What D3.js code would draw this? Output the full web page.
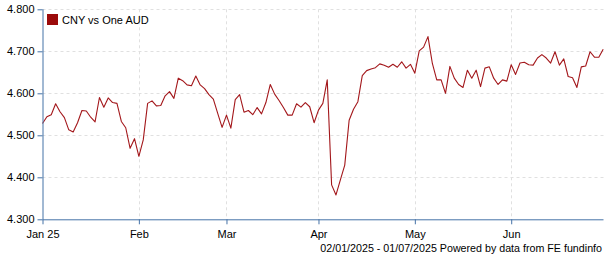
<!DOCTYPE html>
<html><head><meta charset="utf-8">
<script src="https://cdn.jsdelivr.net/npm/d3@7"></script>
<style>body{margin:0;background:#fff;} text{font-family:"Liberation Sans",Arial,sans-serif;}</style>
</head><body><svg id="c" width="605" height="260"></svg>
<script>
const seriesName = "CNY vs One AUD";
const values = [
4.528,4.544,4.549,4.575,4.556,4.542,4.513,4.508,4.530,4.559,
4.558,4.543,4.532,4.590,4.567,4.589,4.578,4.576,4.533,4.518,
4.469,4.492,4.450,4.489,4.576,4.582,4.570,4.571,4.594,4.604,
4.588,4.636,4.630,4.620,4.618,4.641,4.620,4.611,4.597,4.586,
4.552,4.519,4.548,4.517,4.585,4.597,4.555,4.559,4.549,4.566,
4.551,4.578,4.621,4.598,4.583,4.566,4.548,4.548,4.575,4.567,
4.578,4.568,4.530,4.560,4.576,4.632,4.382,4.358,4.394,4.429,
4.536,4.562,4.580,4.642,4.654,4.658,4.661,4.670,4.667,4.662,
4.669,4.662,4.675,4.660,4.669,4.648,4.701,4.710,4.735,4.671,
4.632,4.632,4.600,4.664,4.636,4.621,4.614,4.655,4.636,4.655,
4.616,4.660,4.663,4.636,4.621,4.632,4.629,4.668,4.645,4.672,
4.674,4.668,4.667,4.684,4.692,4.684,4.672,4.699,4.667,4.682,
4.640,4.637,4.614,4.663,4.665,4.699,4.686,4.686,4.705];
const xTickIndex = [0,22,42,63,85,107];
const xTickLabels = ["Jan 25","Feb","Mar","Apr","May","Jun"];
const yTicks = [4.3,4.4,4.5,4.6,4.7,4.8];
const footer = "02/01/2025 - 01/07/2025 Powered by data from FE fundinfo";

const svg = d3.select("#c");
const pL = 42.5, pR = 603.5, pT = 9.3, pB = 219.3;
const x = d3.scaleLinear().domain([0, values.length - 1]).range([pL, pR - 0.3]);
const y = d3.scaleLinear().domain([4.3, 4.8]).range([pB, pT]);
const axisColor = "#4572A7";

// grid
const g = svg.append("g");
g.selectAll("line.hg").data(yTicks.slice(1)).join("line")
  .attr("x1", pL).attr("x2", pR).attr("y1", d => Math.round(y(d)) + 0.5).attr("y2", d => Math.round(y(d)) + 0.5)
  .attr("stroke", "#e0e0e0").attr("stroke-dasharray", "3,3");
g.selectAll("line.vg").data(xTickIndex.slice(1)).join("line")
  .attr("x1", d => Math.round(x(d)) + 0.5).attr("x2", d => Math.round(x(d)) + 0.5).attr("y1", pT).attr("y2", pB)
  .attr("stroke", "#e0e0e0").attr("stroke-dasharray", "3,3");

// line
const line = d3.line().x((d, i) => x(i)).y(d => y(d));
svg.append("path").datum(values).attr("d", line)
  .attr("fill", "none").attr("stroke", "#A3171B").attr("stroke-width", 1.1).attr("stroke-linejoin", "round");

// y axis
const yAxis = d3.axisLeft(y).tickValues(yTicks).tickFormat(d3.format(".3f")).tickSize(5).tickPadding(3);
const ya = svg.append("g").attr("transform", `translate(${pL},0)`).call(yAxis);
ya.select(".domain").attr("stroke", axisColor).attr("d", `M0.5,${pT}V${pB}`);
ya.selectAll(".tick line").attr("stroke", axisColor);
ya.selectAll(".tick text").attr("font-size", 11).attr("fill", "#000").attr("font-family", "Liberation Sans, Arial, sans-serif");

// x axis
const xAxis = d3.axisBottom(x).tickValues(xTickIndex).tickFormat((d, i) => xTickLabels[i]).tickSize(5).tickPadding(6);
const xa = svg.append("g").attr("transform", `translate(0,${pB})`).call(xAxis);
xa.select(".domain").attr("stroke", axisColor).attr("d", `M${pL},0.5H${pR}`);
xa.selectAll(".tick line").attr("stroke", axisColor);
xa.selectAll(".tick text").attr("font-size", 11).attr("fill", "#000").attr("font-family", "Liberation Sans, Arial, sans-serif");

// legend
svg.append("rect").attr("x", 47).attr("y", 14).attr("width", 11).attr("height", 11).attr("fill", "#9B0A0A");
svg.append("text").attr("x", 62).attr("y", 24).attr("font-size", 11).attr("fill", "#000").text(seriesName);

// footer
svg.append("text").attr("x", 602).attr("y", 252).attr("text-anchor", "end").attr("font-size", 10.7).attr("fill", "#000").text(footer);
</script></body></html>
